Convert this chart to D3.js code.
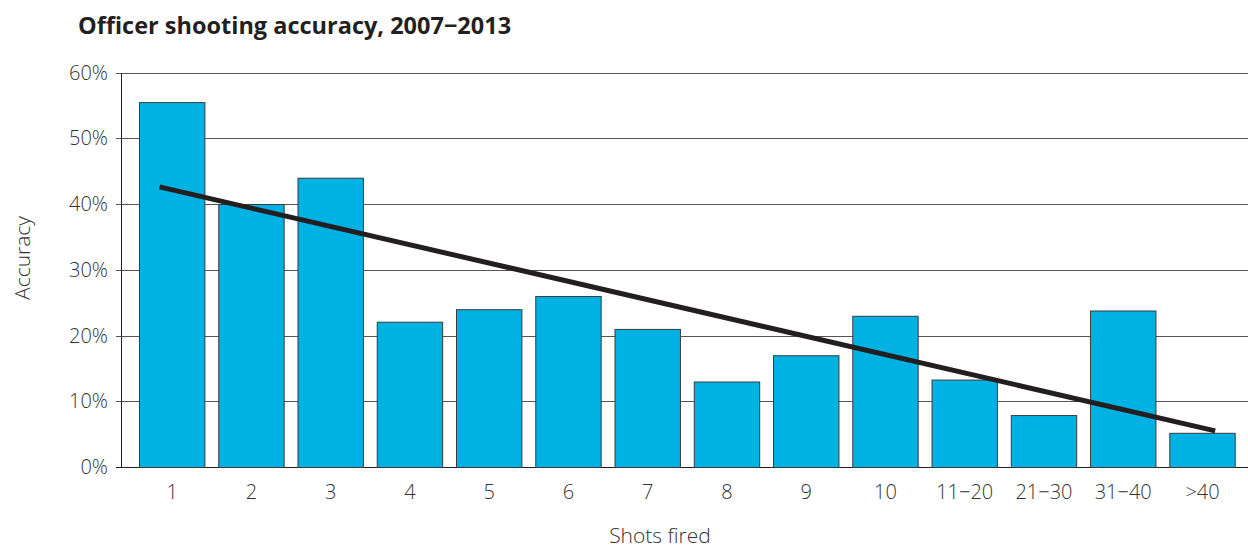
<!DOCTYPE html>
<html>
<head>
<meta charset="utf-8">
<script src="https://cdn.jsdelivr.net/npm/d3@7"></script>
<style>
  body { margin: 0; background: #fff; }
  text { font-family: "Open Sans", "Noto Sans", sans-serif; }
</style>
</head>
<body>
<div id="chart-area"></div>
<script>
// data
var categories = ['1', '2', '3', '4', '5', '6', '7', '8', '9', '10', '11\u221220', '21\u221230', '31\u221240', '>40'];
var accuracy = [55.5, 40, 44, 22.1, 24, 26, 21, 13, 17, 23, 13.3, 7.9, 23.8, 5.2];
var trendValues = [42.6, 5.5];
var yTicks = [0, 10, 20, 30, 40, 50, 60];

var W = 1248, H = 548;
var plot = { left: 121, right: 1248, top: 72.5, bottom: 467 };

var svg = d3.select('#chart-area')
  .append('svg')
    .attr('width', W)
    .attr('height', H);

// X Scale
var x = d3.scaleBand()
  .domain(categories)
  .range([plot.left, 1253.7])
  .paddingInner(0.162)
  .paddingOuter(0.227);

// Y Scale
var y = d3.scaleLinear()
  .domain([0, 60])
  .range([plot.bottom, plot.top]);

// gridlines
svg.append('g')
  .selectAll('line')
  .data(yTicks)
  .enter().append('line')
    .attr('x1', plot.left - 5)
    .attr('x2', plot.right)
    .attr('y1', function(d) { return Math.round(y(d)) + 0.5; })
    .attr('y2', function(d) { return Math.round(y(d)) + 0.5; })
    .attr('stroke', function(d) { return d === 0 ? '#231f20' : '#555'; })
    .attr('stroke-width', 1);

// y axis line
svg.append('line')
  .attr('x1', plot.left + 0.5)
  .attr('x2', plot.left + 0.5)
  .attr('y1', Math.round(y(60)))
  .attr('y2', Math.round(y(0)) + 1)
  .attr('stroke', '#231f20');

// y tick labels
svg.append('g')
  .selectAll('text')
  .data(yTicks)
  .enter().append('text')
    .attr('x', 108)
    .attr('y', function(d) { return y(d) + 7; })
    .attr('text-anchor', 'end')
    .attr('font-size', '20px')
    .attr('font-weight', 300)
    .attr('fill', '#333')
    .text(function(d) { return d + '%'; });

// bars
svg.append('g')
  .selectAll('rect')
  .data(accuracy)
  .enter().append('rect')
    .attr('x', function(d, i) { return x(categories[i]) + 0.5; })
    .attr('y', function(d) { return y(d) + 0.5; })
    .attr('width', x.bandwidth() - 1)
    .attr('height', function(d) { return y(0) - y(d); })
    .attr('fill', '#00b2e3')
    .attr('stroke', '#3a3a3a')
    .attr('stroke-width', 1);

// x tick labels
svg.append('g')
  .selectAll('text')
  .data(categories)
  .enter().append('text')
    .attr('x', function(d) { return x(d) + x.bandwidth() / 2; })
    .attr('y', 499)
    .attr('text-anchor', 'middle')
    .attr('font-size', '20px')
    .attr('font-weight', 300)
    .attr('fill', '#333')
    .text(function(d) { return d; });

// trend line, slightly beyond first and last bar centres
var idx = d3.scaleLinear()
  .domain([0, categories.length - 1])
  .range([x(categories[0]) + x.bandwidth() / 2,
          x(categories[categories.length - 1]) + x.bandwidth() / 2]);
var ext = 0.16;
svg.append('line')
  .attr('x1', idx(-ext))
  .attr('y1', y(trendValues[0]))
  .attr('x2', idx(categories.length - 1 + ext))
  .attr('y2', y(trendValues[1]))
  .attr('stroke', '#231f20')
  .attr('stroke-width', 5);

// title
svg.append('text')
  .attr('x', 78)
  .attr('y', 34)
  .attr('font-size', '23.5px')
  .attr('font-weight', 'bold')
  .attr('fill', '#231f20')
  .text('Officer shooting accuracy, 2007\u22122013');

// X label
svg.append('text')
  .attr('x', 660)
  .attr('y', 543)
  .attr('text-anchor', 'middle')
  .attr('font-size', '21px')
  .attr('font-weight', 300)
  .attr('fill', '#333')
  .text('Shots fired');

// Y label
svg.append('text')
  .attr('transform', 'translate(30, 258) rotate(-90)')
  .attr('text-anchor', 'middle')
  .attr('font-size', '21px')
  .attr('font-weight', 300)
  .attr('fill', '#333')
  .text('Accuracy');
</script>
</body>
</html>
